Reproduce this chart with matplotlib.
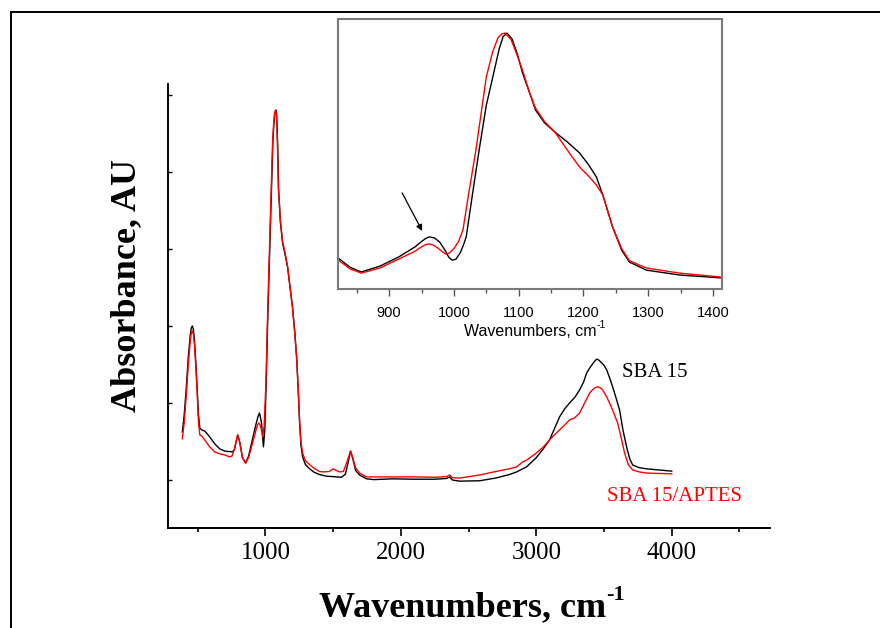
import matplotlib
matplotlib.use("Agg")
import matplotlib.pyplot as plt
from matplotlib.lines import Line2D
from matplotlib.ticker import MultipleLocator

# ---- Full FTIR spectra (wavenumber, absorbance) ----
sba_wn = [386, 400, 415, 430, 445, 452, 460, 468, 475, 485, 495, 505, 515, 530,
          551, 570, 588, 625, 662, 699, 757, 772, 780, 795, 810, 830, 853, 875,
          900, 930, 945, 956, 970, 985, 995, 1005, 1016, 1037, 1055, 1063, 1070,
          1077, 1083, 1090, 1097, 1110, 1126, 1145, 1163, 1180, 1200, 1215, 1230,
          1242, 1252, 1262, 1274, 1295, 1326, 1360, 1400, 1450, 1526, 1560, 1590,
          1610, 1628, 1645, 1665, 1695, 1746, 1800, 1940, 2100, 2250, 2338, 2360,
          2380, 2434, 2581, 2700, 2800, 2855, 2928, 3000, 3050, 3098, 3130, 3172,
          3210, 3246, 3285, 3320, 3350, 3372, 3400, 3430, 3446, 3460, 3480, 3500,
          3520, 3545, 3570, 3590, 3615, 3640, 3667, 3690, 3712, 3740, 3760, 3815,
          4000]
sba_abs = [0.325, 0.370, 0.440, 0.520, 0.578, 0.595, 0.600, 0.590, 0.565, 0.510,
           0.440, 0.370, 0.335, 0.330, 0.327, 0.320, 0.312, 0.294, 0.281, 0.275,
           0.273, 0.280, 0.295, 0.317, 0.298, 0.258, 0.244, 0.262, 0.300, 0.345,
           0.365, 0.374, 0.350, 0.286, 0.330, 0.450, 0.608, 0.868, 1.083, 1.130,
           1.155, 1.161, 1.145, 1.070, 0.953, 0.870, 0.816, 0.785, 0.753, 0.705,
           0.649, 0.590, 0.520, 0.430, 0.348, 0.290, 0.260, 0.240, 0.229, 0.220,
           0.214, 0.210, 0.208, 0.207, 0.215, 0.245, 0.275, 0.255, 0.225, 0.213,
           0.203, 0.201, 0.203, 0.202, 0.202, 0.204, 0.208, 0.200, 0.197, 0.198,
           0.205, 0.214, 0.221, 0.234, 0.258, 0.280, 0.304, 0.330, 0.364, 0.385,
           0.400, 0.415, 0.434, 0.455, 0.478, 0.494, 0.508, 0.514, 0.512, 0.505,
           0.498, 0.486, 0.462, 0.435, 0.412, 0.382, 0.330, 0.286, 0.255, 0.239,
           0.235, 0.232, 0.229, 0.223]

apt_wn = [386, 400, 415, 430, 445, 452, 460, 468, 475, 485, 495, 505, 515, 530,
          551, 588, 625, 662, 699, 735, 752, 770, 780, 795, 810, 830, 853, 875,
          900, 930, 940, 950, 960, 970, 980, 990, 1003, 1014, 1035, 1053, 1061,
          1068, 1075, 1081, 1088, 1095, 1110, 1126, 1145, 1163, 1180, 1200, 1215,
          1230, 1242, 1252, 1262, 1274, 1295, 1326, 1360, 1400, 1426, 1470, 1500,
          1520, 1547, 1575, 1600, 1628, 1645, 1665, 1695, 1746, 1940, 2100, 2250,
          2338, 2360, 2380, 2434, 2581, 2700, 2800, 2855, 2900, 2930, 3000, 3050,
          3098, 3130, 3172, 3210, 3246, 3285, 3320, 3350, 3394, 3420, 3440, 3455,
          3475, 3490, 3520, 3560, 3601, 3630, 3652, 3680, 3712, 3760, 3815, 4000]
apt_abs = [0.307, 0.350, 0.420, 0.500, 0.563, 0.582, 0.587, 0.577, 0.552, 0.498,
           0.430, 0.350, 0.317, 0.314, 0.304, 0.286, 0.273, 0.268, 0.265, 0.260,
           0.262, 0.280, 0.295, 0.317, 0.298, 0.258, 0.244, 0.258, 0.290, 0.330,
           0.342, 0.348, 0.344, 0.330, 0.312, 0.340, 0.450, 0.608, 0.868, 1.083,
           1.130, 1.155, 1.161, 1.148, 1.075, 0.960, 0.875, 0.820, 0.790, 0.755,
           0.705, 0.645, 0.585, 0.518, 0.435, 0.355, 0.300, 0.270, 0.250, 0.240,
           0.230, 0.222, 0.221, 0.222, 0.229, 0.225, 0.221, 0.222, 0.245, 0.275,
           0.258, 0.232, 0.218, 0.208, 0.208, 0.208, 0.207, 0.209, 0.213, 0.206,
           0.205, 0.213, 0.222, 0.229, 0.234, 0.247, 0.252, 0.270, 0.285, 0.304,
           0.316, 0.330, 0.343, 0.356, 0.362, 0.374, 0.395, 0.426, 0.436, 0.441,
           0.442, 0.439, 0.434, 0.416, 0.385, 0.348, 0.305, 0.270, 0.240, 0.226,
           0.221, 0.218, 0.216]

# ---- Zoomed Si-O region (inset) ----
ins_sba_wn = [821, 840, 857, 886, 915, 940, 950, 957, 962, 970, 978, 986, 992,
              997, 1003, 1010, 1015, 1019, 1029, 1039, 1050, 1060, 1070, 1076,
              1082, 1090, 1098, 1106, 1117, 1126, 1140, 1156, 1175, 1194, 1208,
              1220, 1230, 1245, 1259, 1271, 1297, 1348, 1413]
ins_sba_abs = [0.115, 0.080, 0.063, 0.085, 0.119, 0.156, 0.176, 0.188, 0.193,
               0.189, 0.174, 0.145, 0.118, 0.107, 0.110, 0.135, 0.165, 0.193,
               0.356, 0.515, 0.680, 0.785, 0.890, 0.935, 0.948, 0.925, 0.870,
               0.800, 0.726, 0.663, 0.615, 0.581, 0.545, 0.504, 0.460, 0.415,
               0.348, 0.230, 0.144, 0.100, 0.070, 0.052, 0.041]

ins_apt_wn = [821, 840, 857, 886, 915, 940, 950, 956, 961, 968, 975, 982, 987,
              993, 1000, 1007, 1014, 1023, 1034, 1050, 1060, 1068, 1074, 1079,
              1088, 1097, 1106, 1117, 1126, 1140, 1156, 1175, 1194, 1208, 1220,
              1230, 1245, 1259, 1271, 1297, 1348, 1413]
ins_apt_abs = [0.108, 0.074, 0.059, 0.078, 0.111, 0.140, 0.156, 0.164, 0.167,
               0.163, 0.152, 0.138, 0.130, 0.133, 0.150, 0.175, 0.219, 0.356,
               0.515, 0.785, 0.880, 0.930, 0.945, 0.948, 0.925, 0.870, 0.810,
               0.726, 0.670, 0.620, 0.581, 0.515, 0.452, 0.418, 0.385, 0.348,
               0.230, 0.150, 0.105, 0.078, 0.059, 0.044]

serif = "Liberation Serif"
sans = "Liberation Sans"

fig = plt.figure(figsize=(8.8, 6.28), dpi=100)

# outer frame lines (top and left)
fig.add_artist(Line2D([11 / 880, 1.0], [1 - 12 / 628, 1 - 12 / 628],
                      transform=fig.transFigure, color="black", lw=1.4))
fig.add_artist(Line2D([11 / 880, 11 / 880], [0.0, 1 - 12 / 628],
                      transform=fig.transFigure, color="black", lw=1.4))

# ---- main axes ----
ax = fig.add_axes([168 / 880, 1 - 528 / 628, 602 / 880, 444 / 628])
ax.plot(sba_wn, sba_abs, color="black", lw=1.0)
ax.plot(apt_wn, apt_abs, color="#ff0000", lw=1.0)
ax.set_xlim(280, 4726)
ax.set_ylim(0.0753, 1.2286)
for s in ("top", "right"):
    ax.spines[s].set_visible(False)
for s in ("left", "bottom"):
    ax.spines[s].set_linewidth(1.4)

ax.xaxis.set_major_locator(MultipleLocator(1000))
ax.xaxis.set_minor_locator(MultipleLocator(500))
ax.tick_params(axis="x", which="major", direction="out", length=6, width=1.2,
               labelsize=18, pad=4)
ax.tick_params(axis="x", which="minor", direction="out", length=3, width=1.2)
ax.set_yticks([0.2, 0.4, 0.6, 0.8, 1.0, 1.2])
ax.tick_params(axis="y", which="major", direction="in", length=3, width=1.0,
               labelleft=False)
for lab in ax.get_xticklabels():
    lab.set_fontfamily(serif)

xlab = ax.set_xlabel("Wavenumbers, cm", fontfamily=serif, fontsize=26,
                     fontweight="bold", va="center")
ax.xaxis.set_label_coords(0.49, -0.18)
ax.annotate("-1", xy=(1.0, 0.9), xycoords=xlab, fontfamily=serif,
            fontsize=16, fontweight="bold", ha="left", va="center")
ax.set_ylabel("Absorbance, AU", fontfamily=serif, fontsize=26,
              fontweight="bold", va="center")
ax.yaxis.set_label_coords(-0.068, 0.547)

ax.text(3630, 0.478, "SBA 15", fontfamily=serif, fontsize=15, color="black",
        va="center", ha="left")
ax.text(3519, 0.158, "SBA 15/APTES", fontfamily=serif, fontsize=15,
        color="#ff0000", va="center", ha="left")

# ---- inset ----
axi = fig.add_axes([338 / 880, 1 - 289 / 628, 384 / 880, 270 / 628])
axi.plot(ins_sba_wn, ins_sba_abs, color="black", lw=1.0)
axi.plot(ins_apt_wn, ins_apt_abs, color="#ff0000", lw=1.0)
axi.set_xlim(821, 1414)
axi.set_ylim(0.0, 1.0)
for s in axi.spines.values():
    s.set_color("#7a7a7a")
    s.set_linewidth(1.5)
axi.xaxis.set_major_locator(MultipleLocator(100))
axi.xaxis.set_minor_locator(MultipleLocator(50))
axi.tick_params(axis="x", which="major", direction="out", length=5, width=1.0,
                color="#555555", labelsize=10.5, pad=7)
axi.tick_params(axis="x", which="minor", direction="out", length=3, width=1.0,
                color="#555555")
axi.tick_params(axis="y", left=False, labelleft=False)
for lab in axi.get_xticklabels():
    lab.set_fontfamily(sans)
ilab = axi.set_xlabel("Wavenumbers, cm", fontfamily=sans, fontsize=11.5,
                      labelpad=3)
axi.annotate("-1", xy=(1.0, 0.95), xycoords=ilab, fontfamily=sans,
             fontsize=7.5, ha="left", va="center")

axi.annotate("", xy=(951, 0.215), xytext=(920, 0.356),
             arrowprops=dict(arrowstyle="-|>", color="black", lw=0.9,
                             mutation_scale=9, shrinkA=0, shrinkB=0))

fig.savefig("out.png", dpi=100)
